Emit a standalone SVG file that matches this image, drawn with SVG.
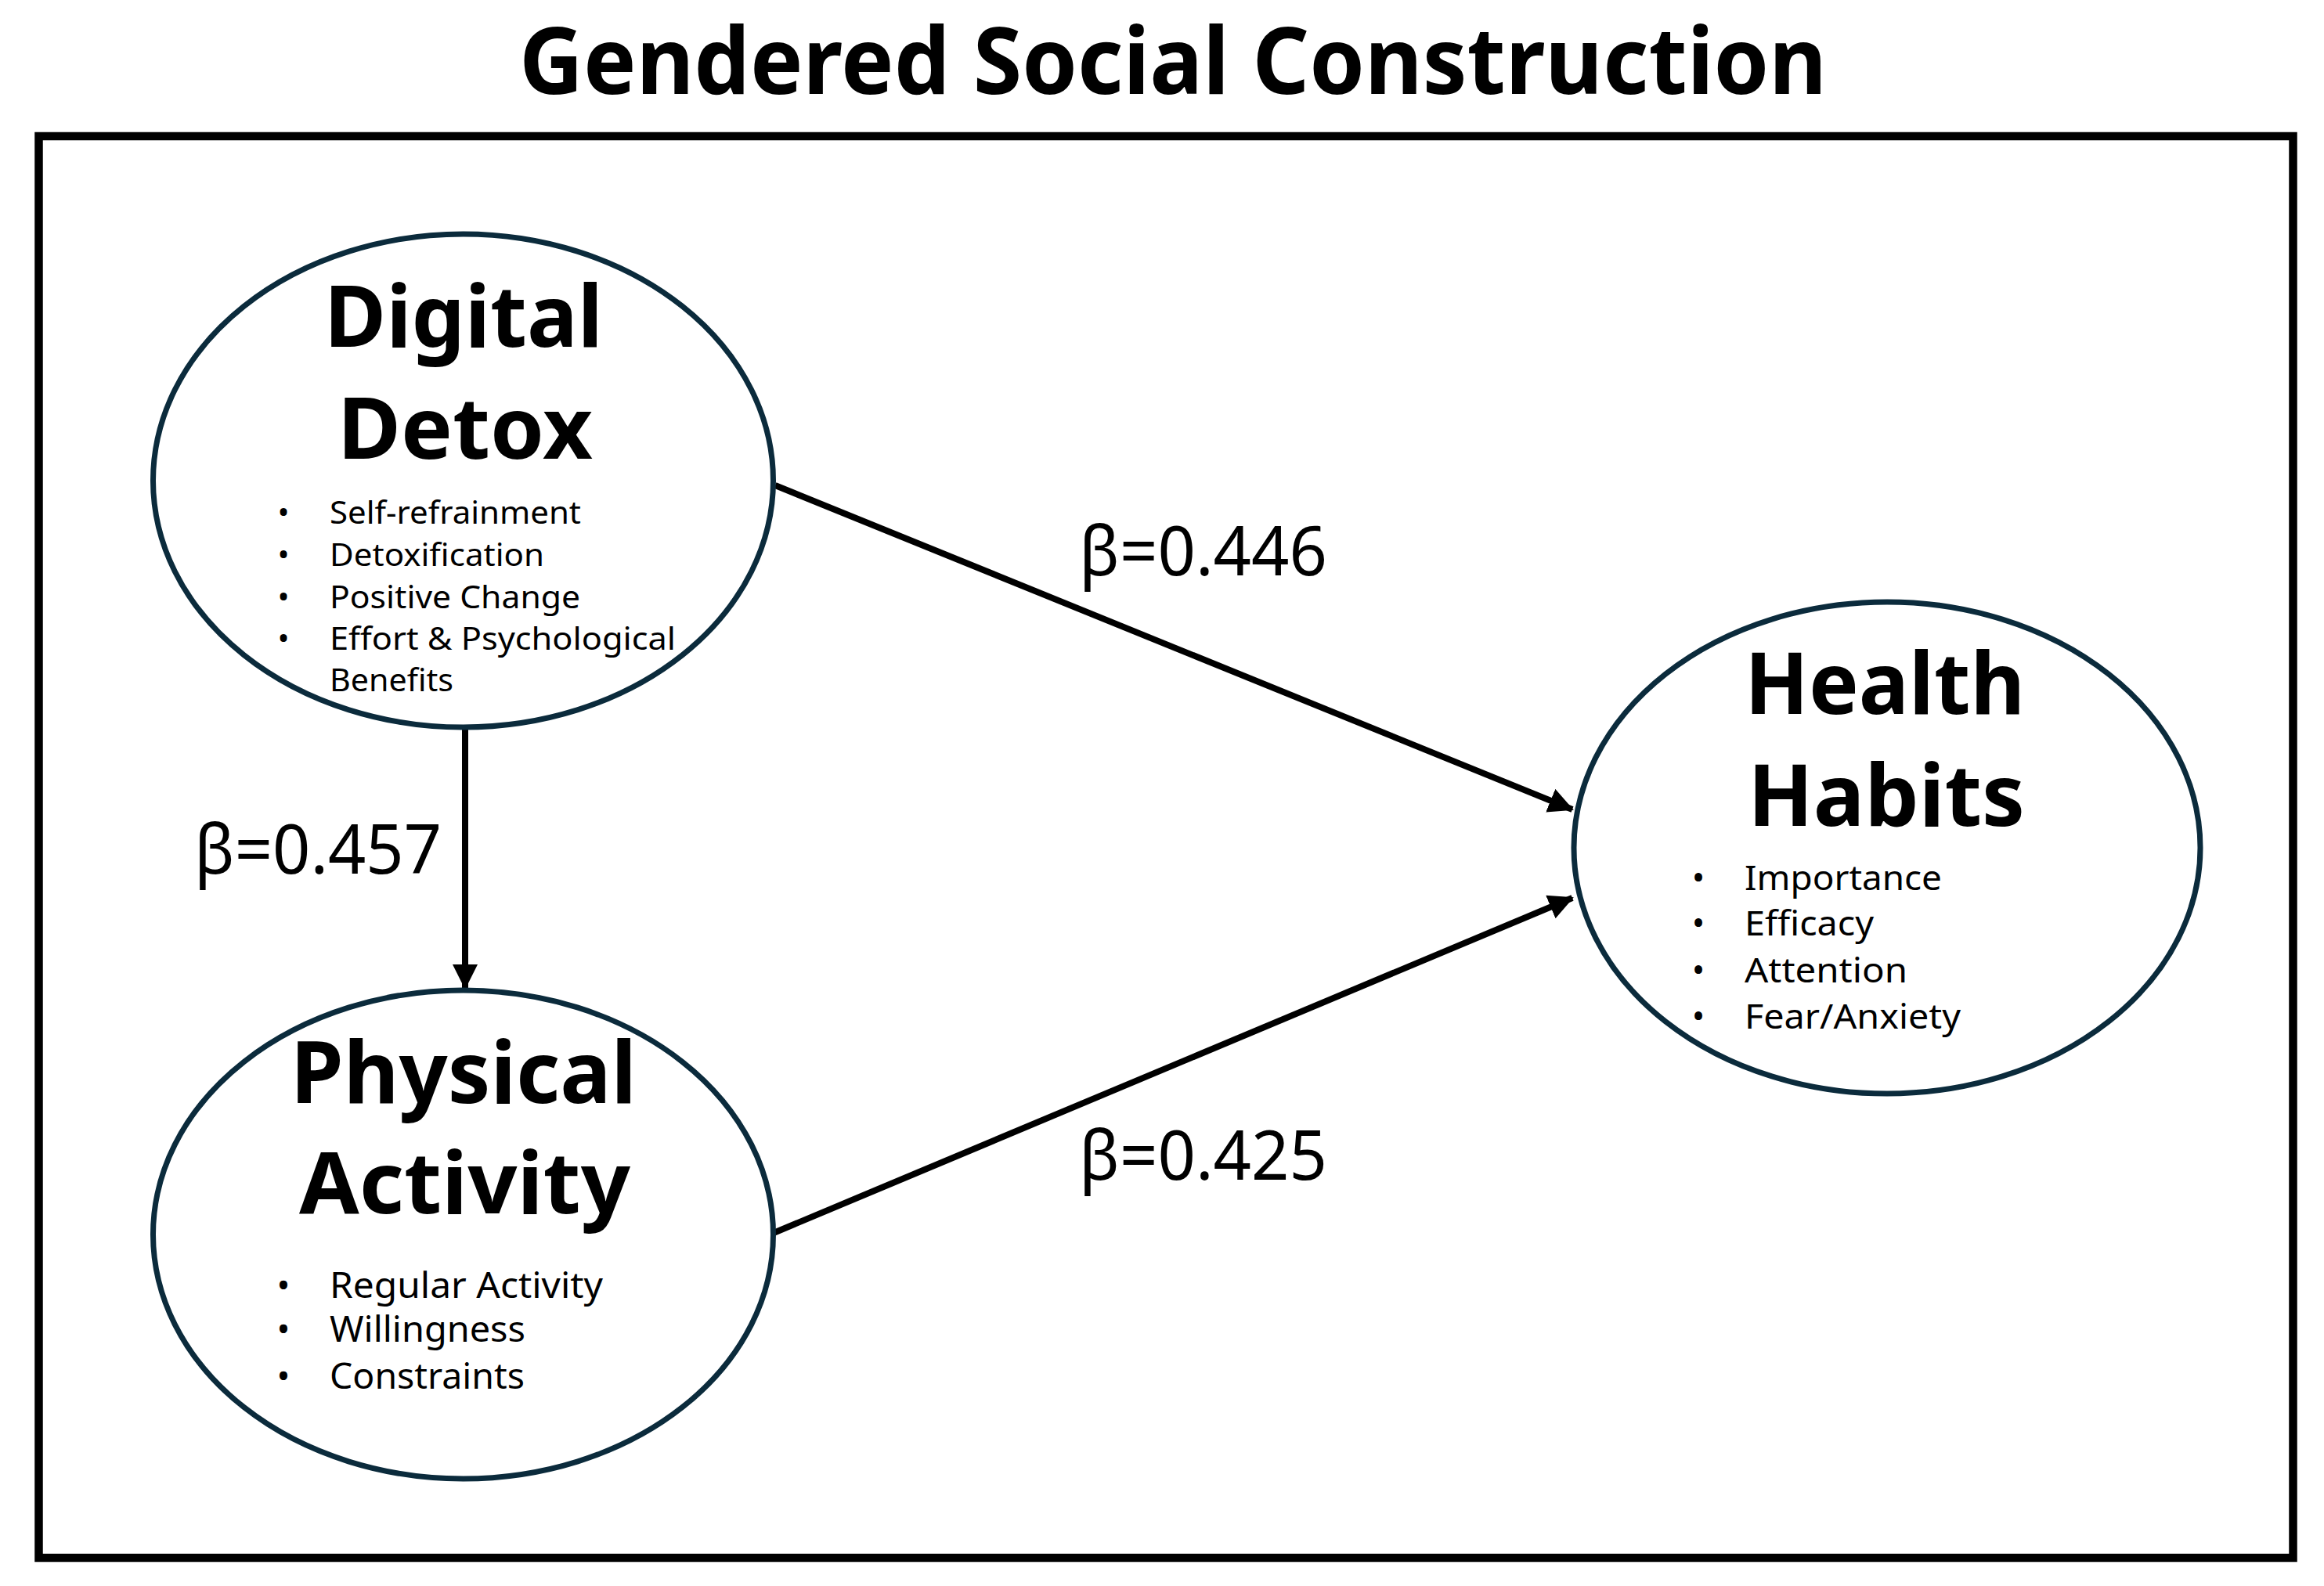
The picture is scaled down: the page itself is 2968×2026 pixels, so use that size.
<svg xmlns="http://www.w3.org/2000/svg" width="2968" height="2026" viewBox="0 0 2968 2026">
<style>
.frame{fill:none;stroke:#000;stroke-width:10.5}
.node{fill:#fff;stroke:#0b2b3c;stroke-width:7}
.edge{stroke:#000;stroke-width:8;fill:none}
.title{font-family:"Noto Sans","Liberation Sans",sans-serif;font-weight:bold;fill:#000}
.head{font-family:"Noto Sans","Liberation Sans",sans-serif;font-weight:bold;font-size:110px;fill:#000}
.item{font-family:"Noto Sans","Liberation Sans",sans-serif;fill:#000}
.lbl{font-family:"Noto Sans","Liberation Sans",sans-serif;font-size:88px;fill:#000}
</style>
<defs>
<marker id="arrow" markerUnits="userSpaceOnUse" markerWidth="34" markerHeight="34" refX="30" refY="16" orient="auto">
<path d="M0,0 L32,16 L0,32 Z" fill="#000"/>
</marker>
</defs>
<rect width="2968" height="2026" fill="#fff"/>
<text class="title" x="663" y="120" font-size="118" textLength="1670" lengthAdjust="spacingAndGlyphs">Gendered Social Construction</text>
<rect class="frame" x="49.5" y="174" width="2879" height="1816"/>
<g id="connectors">
<line class="edge" x1="594" y1="932" x2="594" y2="1262" marker-end="url(#arrow)"/>
<line class="edge" x1="990" y1="620" x2="2008" y2="1034" marker-end="url(#arrow)"/>
<line class="edge" x1="988" y1="1575" x2="2008" y2="1147" marker-end="url(#arrow)"/>
<text class="lbl" x="248" y="1116" textLength="316" lengthAdjust="spacingAndGlyphs">β=0.457</text>
<text class="lbl" x="1378" y="735" textLength="317" lengthAdjust="spacingAndGlyphs">β=0.446</text>
<text class="lbl" x="1378" y="1507" textLength="317" lengthAdjust="spacingAndGlyphs">β=0.425</text>
</g>
<g id="digital-detox">
<ellipse class="node" cx="591.5" cy="614" rx="396" ry="315"/>
<text class="head" x="414" y="443" textLength="356" lengthAdjust="spacingAndGlyphs">Digital</text>
<text class="head" x="431" y="586" textLength="326" lengthAdjust="spacingAndGlyphs">Detox</text>
<g class="item" font-size="40">
<text x="362" y="669" text-anchor="middle">•</text>
<text x="362" y="723" text-anchor="middle">•</text>
<text x="362" y="777" text-anchor="middle">•</text>
<text x="362" y="830" text-anchor="middle">•</text>
<text x="421" y="669" textLength="321" lengthAdjust="spacingAndGlyphs">Self-refrainment</text>
<text x="421" y="723" textLength="274" lengthAdjust="spacingAndGlyphs">Detoxification</text>
<text x="421" y="777" textLength="320" lengthAdjust="spacingAndGlyphs">Positive Change</text>
<text x="421" y="830" textLength="442" lengthAdjust="spacingAndGlyphs">Effort &amp; Psychological</text>
<text x="421" y="883" textLength="158" lengthAdjust="spacingAndGlyphs">Benefits</text>
</g>
</g>
<g id="physical-activity">
<ellipse class="node" cx="591.5" cy="1577" rx="396" ry="312"/>
<text class="head" x="371" y="1409" textLength="442" lengthAdjust="spacingAndGlyphs">Physical</text>
<text class="head" x="382" y="1550" textLength="423" lengthAdjust="spacingAndGlyphs">Activity</text>
<g class="item" font-size="45">
<text x="362" y="1658" text-anchor="middle">•</text>
<text x="362" y="1714" text-anchor="middle">•</text>
<text x="362" y="1774" text-anchor="middle">•</text>
<text x="421" y="1658" textLength="349" lengthAdjust="spacingAndGlyphs">Regular Activity</text>
<text x="421" y="1714" textLength="250" lengthAdjust="spacingAndGlyphs">Willingness</text>
<text x="421" y="1774" textLength="249" lengthAdjust="spacingAndGlyphs">Constraints</text>
</g>
</g>
<g id="health-habits">
<ellipse class="node" cx="2410" cy="1083" rx="400" ry="314"/>
<text class="head" x="2228" y="912" textLength="358" lengthAdjust="spacingAndGlyphs">Health</text>
<text class="head" x="2232" y="1055" textLength="354" lengthAdjust="spacingAndGlyphs">Habits</text>
<g class="item" font-size="44">
<text x="2169" y="1137" text-anchor="middle">•</text>
<text x="2169" y="1195" text-anchor="middle">•</text>
<text x="2169" y="1255" text-anchor="middle">•</text>
<text x="2169" y="1314" text-anchor="middle">•</text>
<text x="2228" y="1137" textLength="252" lengthAdjust="spacingAndGlyphs">Importance</text>
<text x="2228" y="1195" textLength="165" lengthAdjust="spacingAndGlyphs">Efficacy</text>
<text x="2228" y="1255" textLength="208" lengthAdjust="spacingAndGlyphs">Attention</text>
<text x="2228" y="1314" textLength="276" lengthAdjust="spacingAndGlyphs">Fear/Anxiety</text>
</g>
</g>
</svg>
